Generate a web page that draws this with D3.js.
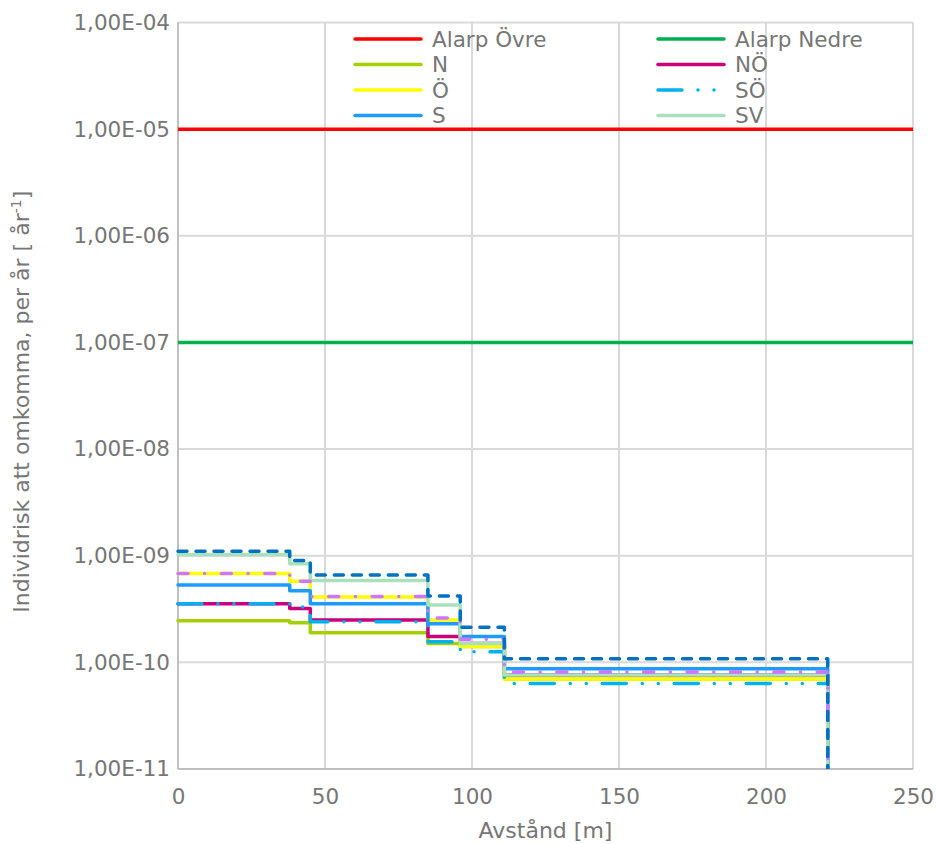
<!DOCTYPE html>
<html>
<head>
<meta charset="utf-8">
<script src="https://cdn.jsdelivr.net/npm/d3@7"></script>
<style>
  body { margin: 0; background: #fff; }
  text { font-family: "DejaVu Sans", Verdana, sans-serif; fill: #767676; }
</style>
</head>
<body>
<div id="chart"></div>
<script>
// step break points along the distance axis [m]
var xBreaks = [0, 38, 45, 85, 96, 111, 221];
var endValue = 1e-11;

// risk values per segment
var alarpOvre = 1e-5;
var alarpNedre = 1e-7;
var riskN  = [2.46e-10, 2.35e-10, 1.9e-10, 1.5e-10, 1.41e-10, 7.0e-11];
var riskNO = [3.55e-10, 3.2e-10, 2.5e-10, 1.75e-10, 1.5e-10, 7.6e-11];
var riskO  = [6.8e-10, 5.75e-10, 4.1e-10, 2.5e-10, 1.41e-10, 7.0e-11];
var riskSO = [3.55e-10, 3.3e-10, 2.4e-10, 1.56e-10, 1.26e-10, 6.35e-11];
var riskS  = [5.3e-10, 4.7e-10, 3.55e-10, 2.3e-10, 1.75e-10, 8.7e-11];
var riskSV = [1.02e-9, 8.4e-10, 5.85e-10, 3.45e-10, 1.5e-10, 7.6e-11];
var riskNV = [6.8e-10, 5.75e-10, 4.15e-10, 2.6e-10, 1.65e-10, 8.1e-11];
var riskV  = [1.1e-9, 9.0e-10, 6.6e-10, 4.2e-10, 2.13e-10, 1.08e-10];

var xTicks = [0, 50, 100, 150, 200, 250];
var yTicks = [1e-11, 1e-10, 1e-9, 1e-8, 1e-7, 1e-6, 1e-5, 1e-4];

var series = [
    {name: 'N',  values: riskN,  color: '#a5cf00', dash: null},
    {name: 'NÖ', values: riskNO, color: '#c8007a', dash: null},
    {name: 'Ö',  values: riskO,  color: '#ffff00', dash: null},
    {name: 'SÖ', values: riskSO, color: '#00b0f0', dash: '24,16,0,16,0,16'},
    {name: 'S',  values: riskS,  color: '#1e9bff', dash: null},
    {name: 'SV', values: riskSV, color: '#a9e0bd', dash: null},
    {name: 'NV', values: riskNV, color: '#cc77ff', dash: '10,16.7,0,16.7'},
    {name: 'V',  values: riskV,  color: '#0070c0', dash: '9,9'}
];

var width = 936, height = 844;
var margin = {top: 22.5, right: 23, bottom: 75, left: 178};
var plotW = width - margin.left - margin.right;
var plotH = height - margin.top - margin.bottom;
var fs = 21.5;

var svg = d3.select('#chart').append('svg')
    .attr('width', width)
    .attr('height', height);

var g = svg.append('g')
    .attr('transform', `translate(${margin.left},${margin.top})`);

var x_scale = d3.scaleLinear().domain([0, 250]).range([0, plotW]);
var y_scale = d3.scaleLog().domain([1e-11, 1e-4]).range([plotH, 0]);

// grid
g.selectAll('.hgrid').data(yTicks).enter().append('line')
    .attr('x1', 0).attr('x2', plotW)
    .attr('y1', d => y_scale(d)).attr('y2', d => y_scale(d))
    .attr('stroke', '#d9d9d9').attr('stroke-width', 2);
g.selectAll('.vgrid').data(xTicks).enter().append('line')
    .attr('y1', 0).attr('y2', plotH)
    .attr('x1', d => x_scale(d)).attr('x2', d => x_scale(d))
    .attr('stroke', '#d9d9d9').attr('stroke-width', 2);

// axis lines
g.append('line').attr('x1', 0).attr('x2', 0).attr('y1', 0).attr('y2', plotH)
    .attr('stroke', '#bfbfbf').attr('stroke-width', 2);
g.append('line').attr('x1', 0).attr('x2', plotW).attr('y1', plotH).attr('y2', plotH)
    .attr('stroke', '#bfbfbf').attr('stroke-width', 2);

// axes (labels only)
function fmtExp(d) {
    var e = Math.round(Math.log10(d));
    var sign = e < 0 ? '-' : '+';
    return '1,00E' + sign + String(Math.abs(e)).padStart(2, '0');
}
var y_axis = d3.axisLeft(y_scale).tickValues(yTicks).tickFormat(fmtExp).tickSize(0).tickPadding(8);
var x_axis = d3.axisBottom(x_scale).tickValues(xTicks).tickFormat(d3.format('d')).tickSize(0).tickPadding(20);

var ya = g.append('g').call(y_axis);
var xa = g.append('g').attr('transform', `translate(0,${plotH})`).call(x_axis);
[ya, xa].forEach(function(a) {
    a.select('.domain').remove();
    a.selectAll('text').attr('font-size', fs).attr('fill', '#767676')
        .style('font-family', '"DejaVu Sans", Verdana, sans-serif');
});

// clip
svg.append('clipPath').attr('id', 'clip').append('rect')
    .attr('x', -3).attr('y', -3).attr('width', plotW + 6).attr('height', plotH + 3);

var lines = g.append('g').attr('clip-path', 'url(#clip)');

// ALARP lines
[{v: alarpOvre, c: '#ff0000'}, {v: alarpNedre, c: '#00b050'}].forEach(function(a) {
    lines.append('line')
        .attr('x1', x_scale(0)).attr('x2', x_scale(250))
        .attr('y1', y_scale(a.v)).attr('y2', y_scale(a.v))
        .attr('stroke', a.c).attr('stroke-width', 3.5);
});

var stepLine = d3.line()
    .x(d => x_scale(d[0]))
    .y(d => y_scale(d[1]))
    .curve(d3.curveStepAfter);

series.forEach(function(s) {
    var pts = s.values.map((v, i) => [xBreaks[i], v]);
    var last = xBreaks[xBreaks.length - 1];
    pts.push([last, s.values[s.values.length - 1]]);
    pts.push([last, endValue]);
    lines.append('path')
        .attr('d', stepLine(pts))
        .attr('fill', 'none')
        .attr('stroke', s.color)
        .attr('stroke-width', 3.5)
        .attr('stroke-linecap', 'round')
        .attr('stroke-linejoin', 'round')
        .attr('stroke-dasharray', s.dash);
});

// legend
var legendItems = [
    {name: 'Alarp Övre', color: '#ff0000', dash: null},
    {name: 'Alarp Nedre', color: '#00b050', dash: null},
    {name: 'N', color: '#a5cf00', dash: null},
    {name: 'NÖ', color: '#c8007a', dash: null},
    {name: 'Ö', color: '#ffff00', dash: null},
    {name: 'SÖ', color: '#00b0f0', dash: '24,16,0,16,0,16'},
    {name: 'S', color: '#1e9bff', dash: null},
    {name: 'SV', color: '#a9e0bd', dash: null}
];
var legend = svg.append('g');
legendItems.forEach(function(d, i) {
    var col = i % 2, row = Math.floor(i / 2);
    var lx = col === 0 ? 355 : 658;
    var ly = 39 + row * 25.5;
    legend.append('line')
        .attr('x1', lx).attr('x2', lx + 66)
        .attr('y1', ly).attr('y2', ly)
        .attr('stroke', d.color).attr('stroke-width', 3.5)
        .attr('stroke-linecap', 'round')
        .attr('stroke-dasharray', d.dash);
    legend.append('text')
        .attr('x', lx + 77).attr('y', ly)
        .attr('dy', '0.36em')
        .attr('font-size', fs)
        .text(d.name);
});

// axis titles
svg.append('text')
    .attr('x', margin.left + plotW / 2).attr('y', 838)
    .attr('text-anchor', 'middle')
    .attr('font-size', 22)
    .text('Avstånd [m]');

var yt = svg.append('text')
    .attr('transform', 'translate(29,' + (margin.top + plotH / 2 + 6) + ') rotate(-90)')
    .attr('text-anchor', 'middle')
    .attr('font-size', 22);
yt.append('tspan').text('Individrisk att omkomma, per år [ år');
yt.append('tspan').attr('font-size', 14).attr('dy', -8).text('-1');
yt.append('tspan').attr('dy', 8).text(']');
</script>
</body>
</html>
